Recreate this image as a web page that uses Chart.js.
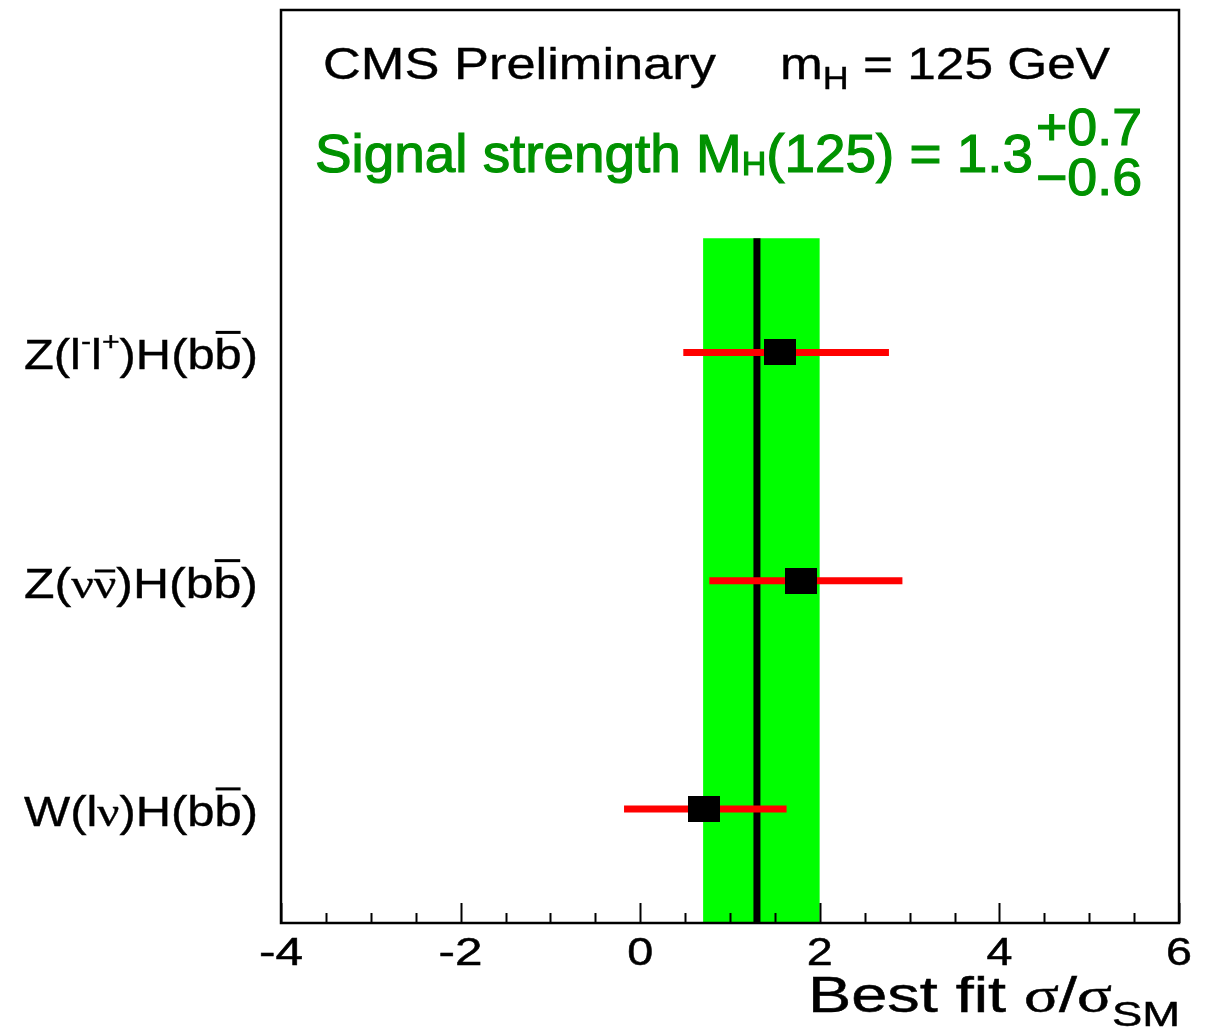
<!DOCTYPE html>
<html>
<head>
<meta charset="utf-8">
<script src="https://cdn.jsdelivr.net/npm/chart.js@4.4.1/dist/chart.umd.min.js"></script>
<style>
  html, body { margin: 0; padding: 0; background: #fff; }
  #wrap { width: 1213px; height: 1033px; position: relative; }
</style>
</head>
<body>
<div id="wrap"><canvas id="muChart"></canvas></div>
<script>
// channels, top to bottom (ROOT-style latex)
var channels = ["Z(l^{-}l^{+})H(b#bar{b})", "Z(#nu#bar{#nu})H(b#bar{b})", "W(l#nu)H(b#bar{b})"]
var bestFit = [1.56, 1.79, 0.71]
var errLow = [0.48, 0.77, -0.18]
var errHigh = [2.77, 2.92, 1.63]

// combined result
var muComb = 1.3
var muUp = 0.7
var muDown = 0.6

var xTicks = [-4, -2, 0, 2, 4, 6]

var SANS = "'Liberation Sans', Arial, sans-serif"
var SERIF = "'Liberation Serif', 'Times New Roman', serif"

// tiny parser for ^{..} _{..} #bar{..} #nu #sigma
function group(s, i) {
  var depth = 0, j = i
  for (; j < s.length; j++) {
    if (s[j] == "{") depth++
    else if (s[j] == "}") { depth--; if (depth == 0) break }
  }
  return [s.slice(i + 1, j), j + 1]
}
function parseTex(s, style) {
  style = style || {}
  var out = [], buf = "", i = 0
  function flush() { if (buf) { out.push(Object.assign({ t: buf }, style)); buf = "" } }
  while (i < s.length) {
    if (s[i] == "^" || s[i] == "_") {
      flush()
      var g = group(s, i + 1)
      out = out.concat(parseTex(g[0], Object.assign({}, style, { shift: s[i] == "^" ? "sup" : "sub" })))
      i = g[1]
    } else if (s.startsWith("#bar", i)) {
      flush()
      var g2 = group(s, i + 4)
      out = out.concat(parseTex(g2[0], Object.assign({}, style, { over: true })))
      i = g2[1]
    } else if (s.startsWith("#nu", i)) {
      flush(); out.push(Object.assign({ t: "ν", greek: true }, style)); i += 3
    } else if (s.startsWith("#sigma", i)) {
      flush(); out.push(Object.assign({ t: "σ", greek: true }, style)); i += 6
    } else { buf += s[i]; i++ }
  }
  flush()
  return out
}

function segFont(seg, size, weight) {
  var sz = seg.shift ? size * (seg.subScale || 0.68) : size
  return (weight || "normal") + " " + sz + "px " + (seg.greek ? SERIF : SANS)
}

// draws latex-ish text; o = {size, align, width, color, bold, subDy, supDy, subScale}
function drawTex(ctx, str, x, y, o) {
  var segs = parseTex(str)
  var size = o.size
  var total = 0
  segs.forEach(function (s) {
    if (o.subScale) s.subScale = o.subScale
    ctx.font = segFont(s, size, o.weight)
    s.w = ctx.measureText(s.t).width
    total += s.w
  })
  var sx = o.width ? o.width / total : 1
  var x0 = x
  if (o.align == "right") x0 = x - total * sx
  if (o.align == "center") x0 = x - total * sx / 2
  ctx.save()
  ctx.translate(x0, y)
  ctx.scale(sx, 1)
  ctx.fillStyle = o.color || "#000"
  ctx.strokeStyle = o.color || "#000"
  ctx.textBaseline = "alphabetic"
  ctx.textAlign = "left"
  var cx = 0
  segs.forEach(function (s) {
    ctx.font = segFont(s, size, o.weight)
    var dy = 0
    if (s.shift == "sup") dy = -size * (o.supDy || 0.42)
    if (s.shift == "sub") dy = size * (o.subDy || 0.25)
    ctx.fillText(s.t, cx, dy)
    if (o.bold) { ctx.lineWidth = o.bold; ctx.strokeText(s.t, cx, dy) }
    if (s.over) {
      ctx.lineWidth = size * 0.07
      var oy = dy - size * (s.greek ? 0.62 : 0.86)
      ctx.beginPath(); ctx.moveTo(cx + 1, oy); ctx.lineTo(cx + s.w - 1, oy); ctx.stroke()
    }
    cx += s.w
  })
  ctx.restore()
}

var nRows = channels.length
function rowY(i) { return nRows - i - 0.5 }

var datasets = []

// best fit markers (drawn on top)
var marker = document.createElement("canvas")
marker.width = 32; marker.height = 26
var mctx = marker.getContext("2d")
mctx.fillStyle = "#000"
mctx.fillRect(0, 0, 32, 26)

datasets.push({
  type: "scatter",
  data: bestFit.map(function (v, i) { return { x: v, y: rowY(i) } }),
  pointStyle: marker,
  pointRadius: 16,
  order: 0
})

// error bars
for (var i = 0; i < nRows; i++) {
  datasets.push({
    type: "line",
    data: [{ x: errLow[i], y: rowY(i) }, { x: errHigh[i], y: rowY(i) }],
    borderColor: "#ff0000",
    borderWidth: 7,
    borderCapStyle: "butt",
    pointRadius: 0,
    order: 1
  })
}

// combined value line
datasets.push({
  type: "line",
  data: [{ x: muComb, y: 0 }, { x: muComb, y: nRows }],
  borderColor: "#000",
  borderWidth: 7,
  borderCapStyle: "butt",
  pointRadius: 0,
  order: 2
})

// combined uncertainty band
datasets.push({
  type: "line",
  data: [
    { x: muComb - muDown, y: 0 }, { x: muComb - muDown, y: nRows },
    { x: muComb + muUp, y: nRows }, { x: muComb + muUp, y: 0 }
  ],
  borderWidth: 0,
  borderColor: "rgba(0,0,0,0)",
  backgroundColor: "#00ff00",
  fill: "origin",
  pointRadius: 0,
  order: 3
})

var framePlugin = {
  id: "frame",
  afterDatasetsDraw: function (chart) {
    var ctx = chart.ctx, a = chart.chartArea
    var xs = chart.scales.x, ys = chart.scales.y
    ctx.save()
    ctx.strokeStyle = "#000"
    // ticks on the bottom axis, pointing inwards
    ctx.lineWidth = 2
    for (var v = xs.min; v <= xs.max + 1e-9; v += 0.5) {
      var px = Math.round(xs.getPixelForValue(v)) + 0.5
      var len = Math.abs(v % 2) < 1e-9 ? 20 : 10
      ctx.beginPath(); ctx.moveTo(px, a.bottom); ctx.lineTo(px, a.bottom - len); ctx.stroke()
    }
    ctx.lineWidth = 2.5
    ctx.strokeRect(a.left, a.top, a.right - a.left, a.bottom - a.top)
    ctx.restore()

    xTicks.forEach(function (t) {
      drawTex(ctx, String(t), xs.getPixelForValue(t), 965, { size: 39, align: "center", width: (t < 0 ? 44 : 26), bold: 0.5 })
    })
    drawTex(ctx, "Best fit #sigma/#sigma_{SM}", a.right + 1, 1012, { size: 50, align: "right", width: 372, subDy: 0.28, subScale: 0.7, bold: 0.5 })

    channels.forEach(function (c, i) {
      drawTex(ctx, c, 258, ys.getPixelForValue(rowY(i)) + 17, { size: 43, align: "right", width: 234, supDy: 0.45, subScale: 0.62, bold: 0.4 })
    })

    drawTex(ctx, "CMS Preliminary", 323, 79, { size: 45, width: 393, bold: 0.4 })
    drawTex(ctx, "m_{H} = 125 GeV", 780, 79, { size: 45, width: 330, subDy: 0.22, subScale: 0.7, bold: 0.4 })

    var green = "rgb(0,146,0)"
    var head = "Signal strength M_{H}(125) = " + muComb
    drawTex(ctx, head, 315, 172, { size: 54, color: green, bold: 1.2, subDy: 0.05, subScale: 0.62, width: 718 })
    drawTex(ctx, "+" + muUp.toFixed(1), 1036, 145, { size: 52, color: green, bold: 1.2, width: 106 })
    drawTex(ctx, "\u2212" + muDown.toFixed(1), 1036, 195, { size: 52, color: green, bold: 1.2, width: 106 })
  }
}

new Chart("muChart", {
  type: "scatter",
  data: { datasets: datasets },
  options: {
    responsive: true,
    maintainAspectRatio: false,
    animation: false,
    events: [],
    layout: { autoPadding: false, padding: { left: 281, right: 34, top: 10, bottom: 110 } },
    plugins: { legend: { display: false }, tooltip: { enabled: false } },
    scales: {
      x: { type: "linear", min: -4, max: 6, display: false },
      y: { type: "linear", min: 0, max: 4, display: false }
    }
  },
  plugins: [framePlugin]
})
</script>
</body>
</html>
